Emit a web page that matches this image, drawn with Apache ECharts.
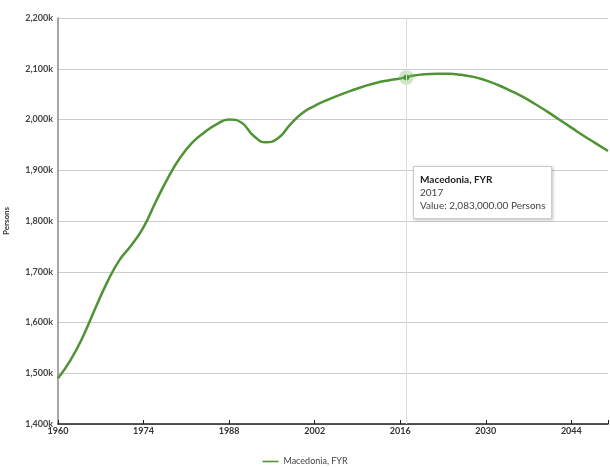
<!DOCTYPE html>
<html>
<head>
<meta charset="utf-8">
<script src="https://cdn.jsdelivr.net/npm/echarts@6/dist/echarts.min.js"></script>
<style>
html,body{margin:0;padding:0;background:#fff;}
#c{width:610px;height:467px;}
</style>
</head>
<body>
<div id="c"></div>
<script>
const seriesName = 'Macedonia, FYR';
const years = [1960,1962,1964,1966,1968,1970,1972,1974,1976,1978,1980,1982,1984,1986,1988,1990,1992,1994,1996,1998,2000,2002,2004,2006,2008,2010,2012,2014,2016,2017,2018,2020,2022,2024,2026,2028,2030,2032,2034,2036,2038,2040,2042,2044,2046,2048,2050];
const values = [1490,1525,1570,1625,1678,1722,1752,1788,1838,1885,1925,1955,1975,1991,2000,1994,1968,1955,1963,1990,2013,2027,2038,2048,2057,2065,2072,2077,2081,2083,2086,2089,2090,2090,2088,2084,2077,2068,2057,2045,2031,2016,2000,1984,1968,1953,1938];
const yTicks = [1400,1500,1600,1700,1800,1900,2000,2100,2200];
const xTicks = [1960,1974,1988,2002,2016,2030,2044];
const hoverYear = 2017;

const fmtK = v => (v >= 1000 ? Math.floor(v/1000) + ',' + String(v%1000).padStart(3,'0') : String(v)) + 'k';
const lineData = years.map((y,i)=>[y, values[i]]);
const hi = years.indexOf(hoverYear);
const hoverPoint = [[years[hi], values[hi]]];

const chart = echarts.init(document.getElementById('c'), null, {renderer:'canvas'});
chart.setOption({
  animation:false,
  textStyle:{fontFamily:'Lato'},
  grid:{left:58,right:2,top:18,bottom:43,containLabel:false,outerBoundsMode:'none'},
  legend:{
    data:[seriesName], bottom:-4, left:'center',
    icon:'path://M0,0H20V2H0Z', itemWidth:16, itemHeight:2,
    textStyle:{fontSize:9,color:'#444',fontFamily:'Lato'}
  },
  tooltip:{
    trigger:'axis', alwaysShowContent:true, showContent:true,
    position:[413,166],
    backgroundColor:'#fff', borderColor:'#ccc', borderWidth:1,
    padding:[6,6,6,6],
    extraCssText:'box-shadow:1px 1px 3px rgba(0,0,0,0.25);border-radius:0;',
    axisPointer:{type:'line', lineStyle:{color:'#ddd',width:1,type:'solid'}, label:{show:false}},
    formatter: function(params){
      const p = params.find(q=>q.seriesName===seriesName) || params[0];
      const v = p.value[1]*1000;
      const s = v.toLocaleString('en-US',{minimumFractionDigits:2,maximumFractionDigits:2});
      return '<div style="font-family:Lato;font-size:10px;line-height:13px;color:#444">'+
        '<b style="color:#222">'+seriesName+'</b><br>'+p.value[0]+'<br>Value: '+s+' Persons</div>';
    }
  },
  xAxis:{
    type:'value', min:1960, max:2050, interval:14,
    axisLine:{show:true,onZero:false,lineStyle:{color:'#222',width:1.5}},
    axisTick:{show:true,inside:true,length:4,lineStyle:{color:'#222'}},
    axisLabel:{color:'#333',fontSize:9,fontWeight:'bold',margin:3,
      formatter:v=>xTicks.includes(v)?String(v):''},
    splitLine:{show:false}
  },
  yAxis:{
    type:'value', min:1400, max:2200, interval:100,
    name:'Persons', nameLocation:'middle', nameGap:48, nameRotate:90,
    nameTextStyle:{fontSize:8,fontWeight:'bold',color:'#333'},
    axisLine:{show:true,lineStyle:{color:'#888',width:1.5}},
    axisTick:{show:false},
    axisLabel:{color:'#444',fontSize:9,fontWeight:'bold',margin:5,
      formatter:v=>yTicks.includes(v)?fmtK(v):''},
    splitLine:{show:true,lineStyle:{color:'#ccc',width:1}}
  },
  series:[
    {
      name:seriesName, type:'line', data:lineData, smooth:0.5,
      showSymbol:false, symbol:'none',
      lineStyle:{color:'#4f9335',width:2.5},
      itemStyle:{color:'#4f9335'},
      emphasis:{disabled:true}
    },
    {
      name:'hover', type:'scatter', data:hoverPoint, symbolSize:15,
      itemStyle:{color:'rgba(120,190,100,0.45)'}, silent:true, tooltip:{show:false}, z:3
    },
    {
      name:'hover2', type:'scatter', data:hoverPoint, symbolSize:6,
      itemStyle:{color:'#3f8a2c'}, silent:true, tooltip:{show:false}, z:4
    }
  ]
});
chart.dispatchAction({type:'showTip', seriesIndex:0, dataIndex:hi});
</script>
</body>
</html>
